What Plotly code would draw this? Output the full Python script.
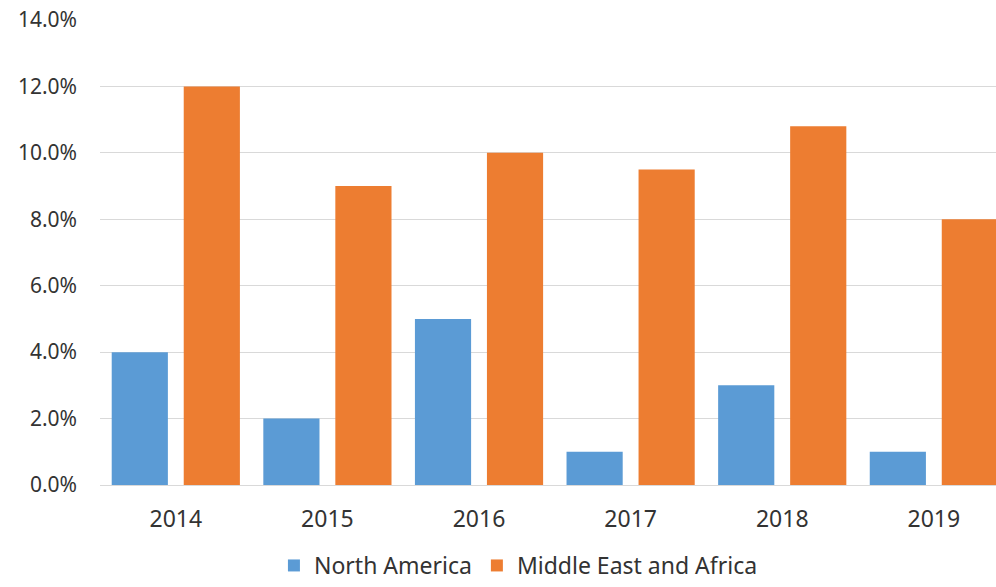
import plotly.graph_objects as go

years = ["2014", "2015", "2016", "2017", "2018", "2019"]
north_america = [4.0, 2.0, 5.0, 1.0, 3.0, 1.0]
middle_east_africa = [12.0, 9.0, 10.0, 9.5, 10.8, 8.0]
y_ticks = [0, 2, 4, 6, 8, 10, 12, 14]
y_tick_labels = [f"{v:.1f}%" for v in y_ticks]

font_family = "Noto Sans, Open Sans, sans-serif"
text_color = "#333333"

fig = go.Figure()
fig.add_trace(go.Bar(name="North America", x=list(range(len(years))), y=north_america,
                     marker=dict(color="#5B9BD5", line=dict(width=0))))
fig.add_trace(go.Bar(name="Middle East and Africa", x=list(range(len(years))), y=middle_east_africa,
                     marker=dict(color="#ED7D31", line=dict(width=0))))

fig.update_layout(
    width=996, height=587,
    margin=dict(l=100, r=0, t=20, b=102, autoexpand=False),
    paper_bgcolor="white", plot_bgcolor="white",
    barmode="group", bargap=0.05, bargroupgap=0.22,
    font=dict(family=font_family, size=21, color=text_color),
    showlegend=True,
    legend=dict(orientation="h", xref="paper", x=0.467, xanchor="center",
                yref="container", y=0.0, yanchor="bottom",
                font=dict(size=23, color=text_color), itemwidth=30, traceorder="normal"),
    xaxis=dict(range=[-0.5, 5.41], tickmode="array", tickvals=list(range(len(years))),
               ticktext=years, tickfont=dict(size=23), showgrid=False, zeroline=False,
               showline=False, ticks="", ticklabelstandoff=18, fixedrange=True,
               automargin=False),
    yaxis=dict(range=[0, 14], tickmode="array", tickvals=y_ticks, ticktext=y_tick_labels,
               tickfont=dict(size=21), showgrid=True, gridcolor="#D9D9D9", gridwidth=1,
               zeroline=True, zerolinecolor="#D9D9D9", zerolinewidth=1, showline=False,
               ticks="", ticklabelstandoff=22, fixedrange=True, automargin=False),
)

fig.write_html("out.html")
